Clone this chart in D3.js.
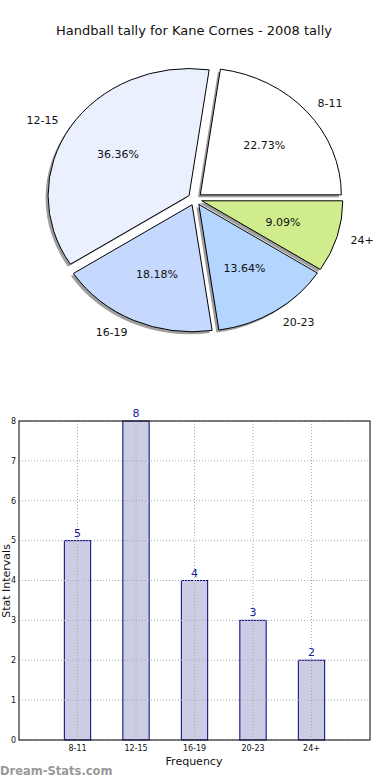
<!DOCTYPE html>
<html>
<head>
<meta charset="utf-8">
<script src="https://cdn.jsdelivr.net/npm/d3@7"></script>
<style>
  body { margin: 0; background: #fff; }
  text { font-family: "DejaVu Sans", sans-serif; }
</style>
</head>
<body>
<div id="chart"></div>
<script>
// data
var categories = ["8-11", "12-15", "16-19", "20-23", "24+"];
var counts = [5, 8, 4, 3, 2];
var yTicks = [0, 1, 2, 3, 4, 5, 6, 7, 8];
var sliceColors = ["#ffffff", "#eaf0fe", "#c5d8fe", "#b4d5fe", "#d0ec8c"];

var svg = d3.select("#chart").append("svg")
    .attr("width", 390)
    .attr("height", 780);

// ---- title ----
svg.append("text")
    .attr("x", 194)
    .attr("y", 35)
    .attr("text-anchor", "middle")
    .style("font-size", "13px")
    .style("fill", "#111")
    .text("Handball tally for Kane Cornes - 2008 tally");

// ---- pie (elliptical, exploded, with shadow) ----
var cx = 195, cy = 199, rx = 141, ry = 127;
var explode = 0.05;
var total = d3.sum(counts);

var pie = d3.pie().sort(null)
    .startAngle(Math.PI / 2)
    .endAngle(Math.PI / 2 - 2 * Math.PI);
var arcs = pie(counts);

var arc = d3.arc().innerRadius(0).outerRadius(rx);

function offset(d, k) {
    var m = (d.startAngle + d.endAngle) / 2;
    return [cx + k * rx * Math.sin(m), cy - k * ry * Math.cos(m)];
}

var pieG = svg.append("g");

// shadows first
arcs.forEach(function(d) {
    var p = offset(d, explode);
    pieG.append("path")
        .attr("d", arc(d))
        .attr("transform", "translate(" + (p[0] - 2.5) + "," + (p[1] + 2.5) + ") scale(1," + (ry / rx) + ")")
        .style("fill", "#000")
        .style("opacity", 0.38);
});

arcs.forEach(function(d, i) {
    var p = offset(d, explode);
    pieG.append("path")
        .attr("d", arc(d))
        .attr("transform", "translate(" + p[0] + "," + p[1] + ") scale(1," + (ry / rx) + ")")
        .style("fill", sliceColors[i])
        .style("stroke", "#000")
        .style("stroke-width", 1)
        .attr("vector-effect", "non-scaling-stroke");
});

arcs.forEach(function(d, i) {
    var m = (d.startAngle + d.endAngle) / 2;
    var lp = offset(d, explode + 1.1);
    pieG.append("text")
        .attr("x", lp[0])
        .attr("y", lp[1])
        .attr("dy", "0.35em")
        .attr("text-anchor", Math.sin(m) > 0 ? "start" : "end")
        .style("font-size", "11px")
        .style("fill", "#111")
        .text(categories[i]);

    var pp = offset(d, explode + 0.6);
    pieG.append("text")
        .attr("x", pp[0])
        .attr("y", pp[1])
        .attr("dy", "0.35em")
        .attr("text-anchor", "middle")
        .style("font-size", "11px")
        .style("fill", "#111")
        .text((counts[i] / total * 100).toFixed(2) + "%");
});

// ---- bar chart ----
var axLeft = 19, axRight = 370, axTop = 421, axBottom = 740;
var x = d3.scaleLinear().domain([0, 6]).range([axLeft, axRight]);
var y = d3.scaleLinear().domain([0, 8]).range([axBottom, axTop]);
var barW = 0.45;

var barG = svg.append("g");

barG.selectAll("rect.bar")
    .data(counts)
    .enter()
    .append("rect")
    .attr("class", "bar")
    .attr("x", function(d, i) { return x(i + 1 - barW / 2); })
    .attr("y", function(d) { return y(d); })
    .attr("width", x(barW) - x(0))
    .attr("height", function(d) { return axBottom - y(d); })
    .style("fill", "#ccccE4")
    .style("stroke", "#000080")
    .style("stroke-width", 1);

// dotted grid on top of bars
barG.selectAll("line.hgrid")
    .data(yTicks)
    .enter()
    .append("line")
    .attr("x1", axLeft).attr("x2", axRight)
    .attr("y1", function(d) { return y(d); })
    .attr("y2", function(d) { return y(d); })
    .style("stroke", "#aaa")
    .style("stroke-dasharray", "1,2");

barG.selectAll("line.vgrid")
    .data(categories)
    .enter()
    .append("line")
    .attr("x1", function(d, i) { return x(i + 1); })
    .attr("x2", function(d, i) { return x(i + 1); })
    .attr("y1", axTop).attr("y2", axBottom)
    .style("stroke", "#aaa")
    .style("stroke-dasharray", "1,2");

// frame
barG.append("rect")
    .attr("x", axLeft).attr("y", axTop)
    .attr("width", axRight - axLeft).attr("height", axBottom - axTop)
    .style("fill", "none")
    .style("stroke", "#000")
    .style("stroke-width", 1);

// value labels
barG.selectAll("text.val")
    .data(counts)
    .enter()
    .append("text")
    .attr("x", function(d, i) { return x(i + 1); })
    .attr("y", function(d) { return y(d) - 4; })
    .attr("text-anchor", "middle")
    .style("font-size", "11px")
    .style("fill", "#1a1a99")
    .text(function(d) { return d; });

// y tick labels
barG.selectAll("text.ytick")
    .data(yTicks)
    .enter()
    .append("text")
    .attr("x", 16)
    .attr("y", function(d) { return y(d); })
    .attr("dy", "0.35em")
    .attr("text-anchor", "end")
    .style("font-size", "8px")
    .style("fill", "#111")
    .text(function(d) { return d; });

// x tick labels
barG.selectAll("text.xtick")
    .data(categories)
    .enter()
    .append("text")
    .attr("x", function(d, i) { return x(i + 1); })
    .attr("y", 751)
    .attr("text-anchor", "middle")
    .style("font-size", "8px")
    .style("fill", "#111")
    .text(function(d) { return d; });

svg.append("text")
    .attr("x", 194)
    .attr("y", 765)
    .attr("text-anchor", "middle")
    .style("font-size", "11px")
    .style("fill", "#111")
    .text("Frequency");

svg.append("text")
    .attr("transform", "translate(9.5,581) rotate(-90)")
    .attr("text-anchor", "middle")
    .style("font-size", "11px")
    .style("fill", "#111")
    .text("Stat Intervals");

svg.append("text")
    .attr("x", 0)
    .attr("y", 775)
    .style("font-size", "11.5px")
    .style("fill", "#999")
    .style("font-weight", "bold")
    .text("Dream-Stats.com");
</script>
</body>
</html>
